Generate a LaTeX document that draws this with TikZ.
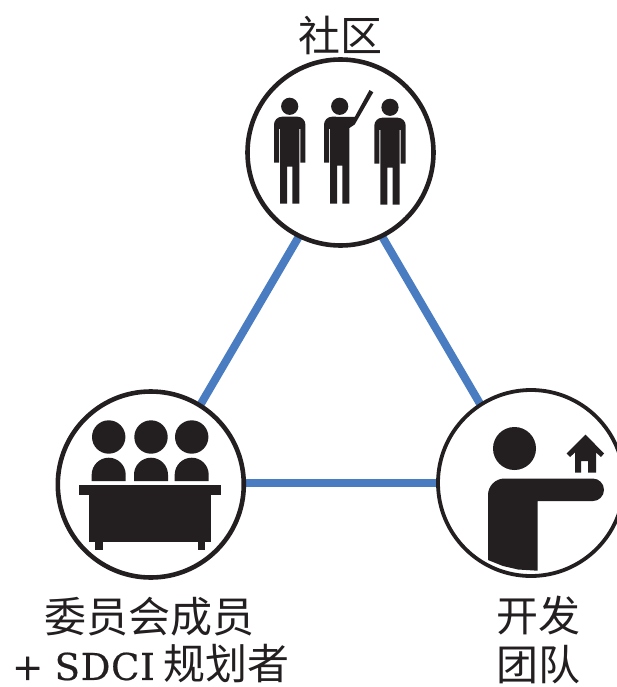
\documentclass[tikz,border=0pt]{standalone}
\usepackage{fontspec}
\usetikzlibrary{calc,backgrounds}
\setmainfont{DejaVu Serif}
\newfontfamily\cjk{Noto Sans CJK SC}
\newfontfamily\slab{DejaVu Serif}[FakeBold=0.5,LetterSpace=2]
\definecolor{ink}{HTML}{231F20}
\definecolor{linkblue}{HTML}{4A7CC1}
\tikzset{
  ring/.style={circle,draw=ink,line width=4.6pt,fill=white,minimum size=186pt,inner sep=0pt},
  link/.style={draw=linkblue,line width=8pt},
  lab/.style={font=\cjk\fontsize{42}{50}\selectfont,text=ink,inner sep=0pt,align=center}
}
\begin{document}
\begin{tikzpicture}[x=1pt,y=-1pt]
\useasboundingbox (0,0) rectangle (617,687);
\node[ring] (comm) at (340.5,152.5) {};
\node[ring] (panel) at (150.8,484.5) {};
\node[ring,line width=3.8pt] (dev) at (531,483) {};
\coordinate (commhubA) at ($(comm)+(-1.5,15.5)$);
\coordinate (commhubB) at ($(comm)+(1.5,15.5)$);
\coordinate (panelhubA) at ($(panel)+(3.2,-0.5)$);
\coordinate (panelhubB) at ($(panel)+(0,-1.5)$);
\coordinate (devhubA) at ($(dev)+(-4,1)$);
\coordinate (devhubB) at ($(dev)+(0,0)$);
\begin{scope}[on background layer]
\fill[white] (0,0) rectangle (617,687);
\draw[link] (commhubA) -- (panelhubA);
\draw[link] (commhubB) -- (devhubA);
\draw[link] (panelhubB) -- (devhubB);
\end{scope}
% people
\foreach \px/\py in {289.7/0,390/1}{
  \begin{scope}[shift={(\px,\py)}]
  \fill[ink] (0,106.3) circle (8.6);
  \fill[ink] (-15.7,124.7) arc (180:270:8) -- (7.7,116.7) arc (270:360:8) -- (15.7,162.7) -- (10.7,162.7) -- (10.7,129) -- (9.7,129) -- (9.7,203.7) -- (2.7,203.7) -- (2.7,166.7) -- (-2.7,166.7) -- (-2.7,203.7) -- (-9.7,203.7) -- (-9.7,129) -- (-10.7,129) -- (-10.7,162.7) -- (-15.7,162.7) -- cycle;
  \end{scope}
}
\begin{scope}[shift={(339.7,0)}]
  \fill[ink] (0,106.3) circle (8.6);
  \fill[ink] (-15.7,124.7) arc (180:270:8) -- (15,117) -- (29.8,90) -- (33.6,92.3) -- (15,124.5) -- (9.7,128) -- (9.7,203.7) -- (2.7,203.7) -- (2.7,165.7) -- (-2.7,165.7) -- (-2.7,203.7) -- (-9.7,203.7) -- (-9.7,129) -- (-10.7,129) -- (-10.7,162.7) -- (-15.7,162.7) -- cycle;
\end{scope}
% panel
\foreach \hx in {108.7,151,191.7}{
  \fill[ink] (\hx,437) circle (16.7);
  \fill[ink] (\hx-17,481) -- (\hx-17,474.7) arc (180:360:17) -- (\hx+17,481) -- cycle;
}
\fill[ink] (79,485) rectangle (221,495);
\fill[ink] (89,495) rectangle (211,541.7);
\fill[ink] (95,541.7) rectangle (103,550);
\fill[ink] (198,541.7) rectangle (205,550);
% developer
\fill[ink] (514.5,448.5) circle (21.5);
\fill[ink] (488,495) arc (180:270:16.5) -- (592.7,478.5) arc (-90:90:11.3) -- (537.5,501.1) -- (537.5,570.7) -- (518,569.5) -- (503,566) -- (488,560) -- cycle;
\fill[ink] (585.5,434.5) -- (604,453.5) -- (601,457) -- (596,452.5) -- (596,472.5) -- (588,472.5) -- (588,461) -- (581,461) -- (581,472.5) -- (575,472.5) -- (575,452.5) -- (570,457) -- (566.7,453.5) -- cycle;
% labels
\node[lab] (t1) at (340,35) {社区};
\node[lab] (t2) at (149,617) {委员会成员};
\node[lab] (t3) at (151,664) {{\slab\fontsize{37}{46}\selectfont +\hspace{-1pt} SDCI}\hspace{9pt}规划者};
\node[lab] (t4) at (538.5,616) {开发};
\node[lab] (t5) at (538.5,665) {团队};
\end{tikzpicture}
\end{document}
